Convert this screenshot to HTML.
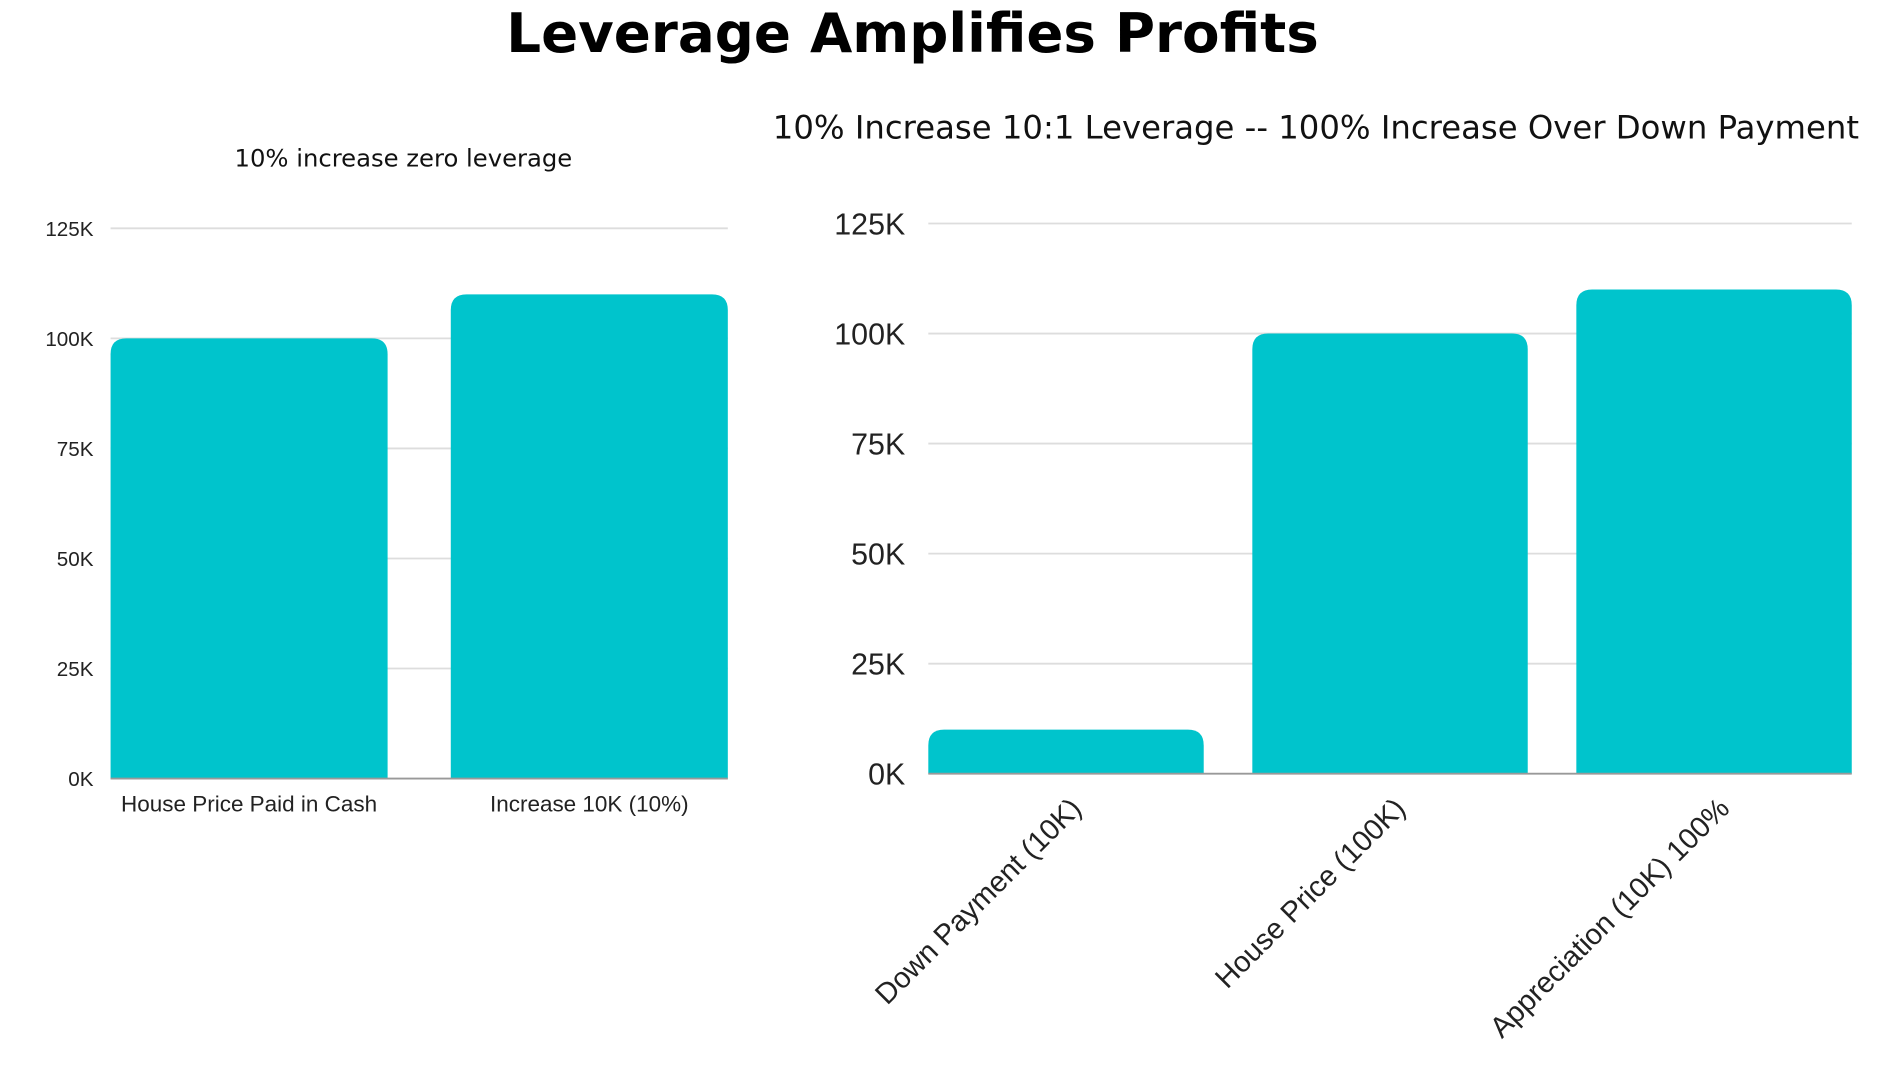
<!DOCTYPE html>
<html><head><meta charset="utf-8"><style>
html,body{margin:0;padding:0;background:#fff;}
svg{display:block;}
text{font-family:"Liberation Sans",sans-serif;fill:#222;}
</style></head><body>
<svg id="chart" width="1904" height="1081" viewBox="0 0 1567 890" preserveAspectRatio="none" xmlns="http://www.w3.org/2000/svg">
<text x="751" y="43" text-anchor="middle" style="font-family:'DejaVu Sans',sans-serif;font-weight:bold;font-size:45px;fill:#000">Leverage Amplifies Profits</text>
<text x="332" y="137" text-anchor="middle" style="font-family:'DejaVu Sans',sans-serif;font-size:20px;fill:#111">10% increase zero leverage</text>
<text x="1083" y="114" text-anchor="middle" style="font-family:'DejaVu Sans',sans-serif;font-size:26.6px;fill:#111">10% Increase 10:1 Leverage -- 100% Increase Over Down Payment</text>
<g id="left"></g><g id="right"></g>
</svg>
<script>
const ticks=[0,25000,50000,75000,100000,125000];
const tickLabels=["0K","25K","50K","75K","100K","125K"];
const leftCats=["House Price Paid in Cash","Increase 10K (10%)"];
const leftVals=[100000,110000];
const rightCats=["Down Payment (10K)","House Price (100K)","Appreciation (10K)  100%"];
const rightVals=[10000,100000,110000];
const NS="http://www.w3.org/2000/svg";
function mk(tag,attrs,parent){const e=document.createElementNS(NS,tag);for(const k in attrs)e.setAttribute(k,attrs[k]);parent.appendChild(e);return e;}
function barPath(x,y,w,h,r){r=Math.min(r,h,w/2);return `M${x},${y+h}V${y+r}Q${x},${y} ${x+r},${y}H${x+w-r}Q${x+w},${y} ${x+w},${y+r}V${y+h}Z`;}
function draw(g,cats,vals,o){
  const y=v=>o.y0-(v/125000)*(o.y0-o.y125);
  const step=(o.x1-o.x0)/cats.length;
  ticks.forEach((t,i)=>{
    if(t>0){const l=mk('line',{x1:o.x0,x2:o.xe,y1:y(t),y2:y(t),stroke:'#ddd','stroke-width':1.5},g);
    
    }
    const tx=mk('text',{x:o.tickX,y:y(t)+o.tfs*0.36,'text-anchor':'end','font-size':o.tfs},g);
    tx.textContent=tickLabels[i];
    
    
  });
  vals.forEach((v,i)=>{
    const bx=o.x0+i*step, bw=step-o.gap;
    const p=mk('path',{d:barPath(bx,y(v),bw,y(0)-y(v),13),fill:'#00C4CC'},g);
    
    
    const cx=bx+bw/2;
    let t;
    if(o.rot){t=mk('text',{x:cx+o.rotDx,y:y(0)+30,'text-anchor':'end','font-size':o.lfs,transform:`rotate(-45 ${cx+o.rotDx} ${y(0)+30})`},g);}
    else{t=mk('text',{x:cx,y:y(0)+27,'text-anchor':'middle','font-size':o.lfs},g);}
    t.textContent=cats[i];
    
    
  });
  const ax=mk('line',{x1:o.x0,x2:o.xe,y1:y(0),y2:y(0),stroke:'#999','stroke-width':1.5},g);
  
  
}
draw(document.getElementById('left'),leftCats,leftVals,{x0:91,x1:651,xe:599,y0:641,y125:188,gap:52,tickX:77,tfs:17,lfs:18.5,rot:false});
draw(document.getElementById('right'),rightCats,rightVals,{x0:764,x1:1564,xe:1524,y0:637,y125:184,gap:40,tickX:745,tfs:25,lfs:24,rot:true,rotDx:14});
</script>
</body></html>
